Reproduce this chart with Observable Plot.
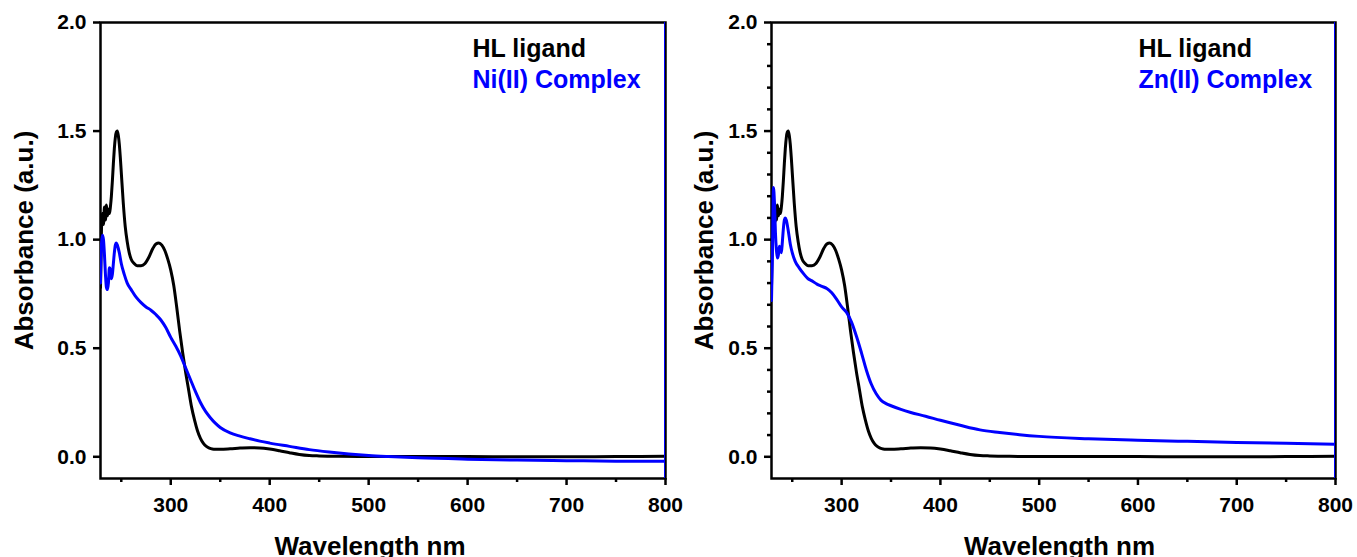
<!DOCTYPE html>
<html><head><meta charset="utf-8">
<script src="https://cdn.jsdelivr.net/npm/d3@7"></script>
<script src="https://cdn.jsdelivr.net/npm/@observablehq/plot@0.6"></script>
<style>
body{margin:0;background:#fff}
#wrap{display:flex;width:1357px;height:557px;overflow:hidden}
svg text{font-weight:bold}
</style>
</head><body><div id="wrap"></div>
<script>
// ---- data ----
const hlWavelength = [229,230,231,232,233,234,235,236,237,238,239,240,241,242,243,244,245,246,247,248,249,250,252,254,256,258,260,263,266,270,274,278,282,285,288,291,294,297,300,303,306,309,312,315,318,321,324,327,330,333,336,339,342,345,350,360,370,380,390,400,410,420,430,440,450,470,500,550,600,650,700,750,800];
const hlAbsorbance = [0.78,1.05,1.12,1.07,1.15,1.09,1.16,1.11,1.14,1.12,1.15,1.20,1.27,1.35,1.42,1.47,1.495,1.50,1.48,1.44,1.38,1.31,1.17,1.06,0.99,0.94,0.91,0.89,0.88,0.88,0.89,0.92,0.96,0.98,0.985,0.975,0.95,0.91,0.86,0.79,0.69,0.58,0.48,0.39,0.31,0.23,0.17,0.12,0.085,0.062,0.048,0.040,0.036,0.035,0.035,0.037,0.040,0.042,0.041,0.036,0.028,0.019,0.011,0.006,0.004,0.002,0.001,0.001,0.001,0.000,0.000,0.001,0.002];

const niWavelength = [229,230,231,232,233,234,235,236,237,238,239,240,241,242,243,244,245,246,248,250,253,256,260,265,270,275,280,285,290,295,300,305,310,315,320,325,330,335,340,345,350,360,370,380,390,400,420,440,460,480,500,520,550,600,650,700,750,800];
const niAbsorbance = [0.80,0.98,1.02,1.00,0.93,0.84,0.78,0.77,0.80,0.87,0.86,0.82,0.84,0.89,0.94,0.975,0.985,0.975,0.94,0.89,0.84,0.80,0.77,0.735,0.71,0.69,0.675,0.655,0.63,0.595,0.55,0.51,0.465,0.41,0.355,0.30,0.25,0.21,0.18,0.155,0.135,0.11,0.095,0.083,0.072,0.063,0.048,0.033,0.022,0.013,0.006,0.001,-0.005,-0.011,-0.015,-0.018,-0.020,-0.021];
const niEdgeWavelength = [800,800,800];
const niEdgeAbsorbance = [-0.021,-0.5,2.5];

const znWavelength = [229,230,231,232,233,234,235,236,237,238,239,240,241,242,243,244,246,248,250,253,257,262,266,270,275,280,285,290,295,300,305,310,315,320,325,330,335,340,345,350,360,370,385,400,420,440,460,480,500,550,600,650,700,750,800];
const znAbsorbance = [0.72,0.95,1.24,1.17,1.03,0.95,0.915,0.93,0.97,0.95,0.94,0.99,1.05,1.09,1.10,1.09,1.04,0.98,0.94,0.90,0.87,0.84,0.82,0.81,0.795,0.785,0.775,0.755,0.725,0.69,0.665,0.62,0.555,0.48,0.40,0.335,0.29,0.26,0.245,0.235,0.218,0.204,0.187,0.168,0.145,0.124,0.112,0.102,0.094,0.083,0.076,0.071,0.066,0.062,0.058];
const znEdgeWavelength = [800,800,800];
const znEdgeAbsorbance = [0.058,-0.5,2.5];

const xTicks = [300,400,500,600,700,800];
const xMinorTicks = [250,350,450,550,650,750];
const yTicks = [0,0.5,1.0,1.5,2.0];
const yMinorTicks = [0.1,0.2,0.3,0.4,0.6,0.7,0.8,0.9,1.1,1.2,1.3,1.4,1.6,1.7,1.8,1.9];
const xDomain = [229,800];
const yDomain = [-0.1,2.0];
const hlName = "HL ligand";
const xLabel = "Wavelength nm";
const yLabel = "Absorbance (a.u.)";

const rows = (ws, as) => ws.map((w, i) => ({w, a: as[i]}));

function panel(o) {
  const marks = [
    Plot.frame({strokeWidth: 2.5}),
    Plot.axisX(xTicks, {tickSize: 7, tickPadding: 12, strokeWidth: 2.5, fontSize: 21, tickFormat: d => String(d), label: null}),
    Plot.axisX(xMinorTicks, {tickSize: 4, strokeWidth: 2.5, tickFormat: () => "", label: null}),
    Plot.axisY(yTicks, {tickSize: 7, tickPadding: 7, strokeWidth: 2.5, fontSize: 21, tickFormat: d3.format(".1f"), label: null})
  ];
  if (o.yMinor) marks.push(Plot.axisY(yMinorTicks, {tickSize: 4, strokeWidth: 2.5, tickFormat: () => "", label: null}));
  marks.push(
    Plot.line(rows(hlWavelength, hlAbsorbance), {x: "w", y: "a", stroke: "#000", strokeWidth: 3, curve: "monotone-x", clip: true}),
    Plot.line(rows(o.cw, o.ca), {x: "w", y: "a", stroke: "#0000ff", strokeWidth: 3, curve: "monotone-x", clip: true}),
    Plot.line(rows(o.ew, o.ea), {x: "w", y: "a", stroke: "#0000ff", strokeWidth: 3, clip: true}),
    Plot.text([hlName], {frameAnchor: "top-right", dx: o.legendDx, dy: 17, textAnchor: "start", lineAnchor: "top", fontSize: 25, fill: "#000"}),
    Plot.text([o.name], {frameAnchor: "top-right", dx: o.legendDx, dy: 48, textAnchor: "start", lineAnchor: "top", fontSize: 25, fill: "#0000ff"}),
    Plot.text([xLabel], {frameAnchor: "bottom", dx: o.xLabelDx, dy: 58, textAnchor: "middle", lineAnchor: "top", fontSize: 26, fill: "#000"}),
    Plot.text([yLabel], {frameAnchor: "left", dx: o.yLabelDx, dy: -10, rotate: -90, textAnchor: "middle", lineAnchor: "middle", fontSize: 26, fill: "#000"})
  );
  return Plot.plot({
    width: o.width, height: 557,
    marginLeft: o.ml, marginRight: o.mr, marginTop: 22, marginBottom: 79,
    x: {domain: xDomain, axis: null},
    y: {domain: yDomain, axis: null},
    style: {fontFamily: "'Liberation Sans', Arial, sans-serif", fontSize: "21px", color: "#000", overflow: "visible"},
    marks
  });
}

const wrap = document.getElementById("wrap");
wrap.append(panel({name: "Ni(II) Complex", cw: niWavelength, ca: niAbsorbance, ew: niEdgeWavelength, ea: niEdgeAbsorbance,
  width: 678, ml: 100, mr: 13, yMinor: false, legendDx: -193, xLabelDx: -13, yLabelDx: -76}));
wrap.append(panel({name: "Zn(II) Complex", cw: znWavelength, ca: znAbsorbance, ew: znEdgeWavelength, ea: znEdgeAbsorbance,
  width: 679, ml: 93, mr: 22, yMinor: true, legendDx: -197, xLabelDx: 6, yLabelDx: -67}));
</script>
</body></html>
